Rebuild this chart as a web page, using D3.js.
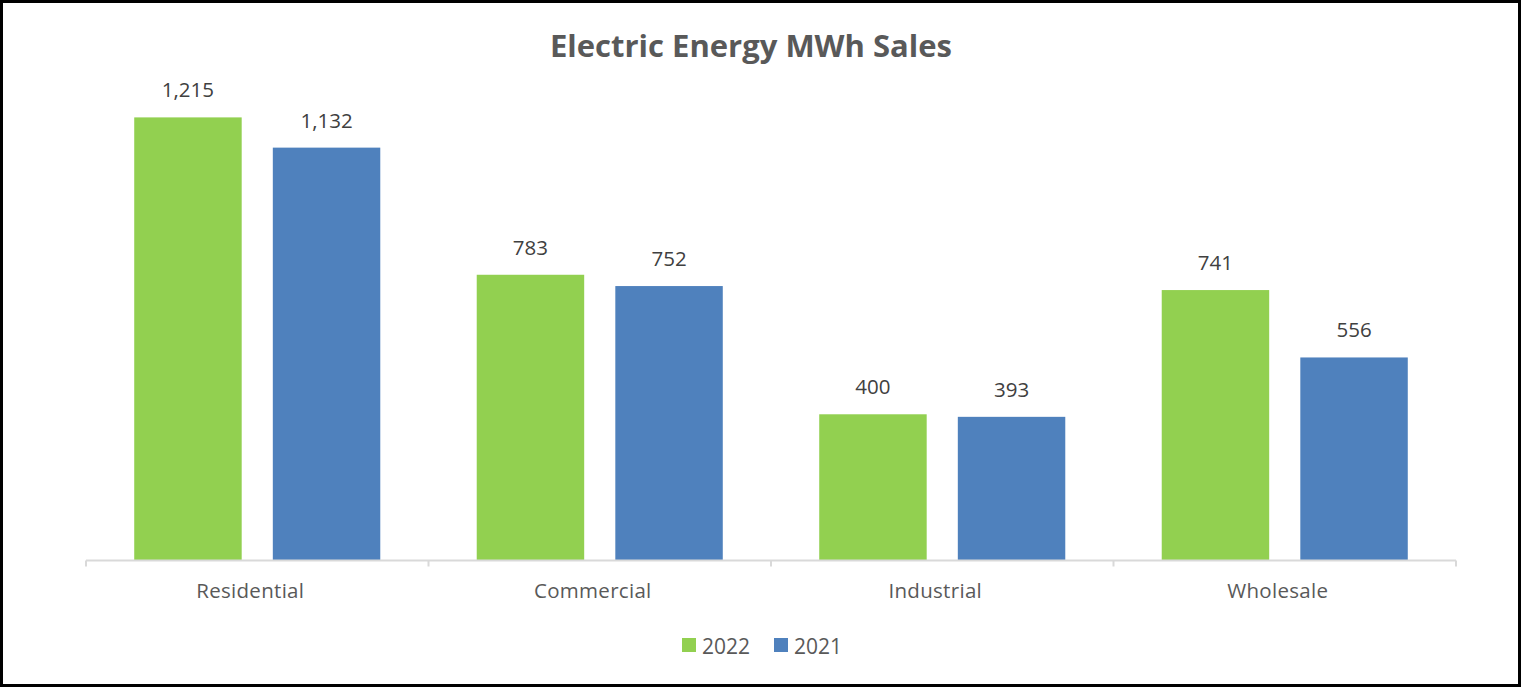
<!DOCTYPE html>
<html>
<head>
<meta charset="utf-8">
<script src="https://cdn.jsdelivr.net/npm/d3@7"></script>
<style>
    html, body { margin: 0; padding: 0; background: #fff; }
    svg { display: block; }
</style>
</head>
<body>
<div id="chart"></div>
<script>
// 数据
const categories = ['Residential', 'Commercial', 'Industrial', 'Wholesale'];
const seriesNames = ['2022', '2021'];
const values2022 = [1215, 783, 400, 741];
const values2021 = [1132, 752, 393, 556];
const seriesColors = ['#92d050', '#4f81bd'];

const W = 1522, H = 688;
const svg = d3.select('#chart').append('svg')
    .attr('width', W).attr('height', H);

// 外框
svg.append('rect')
    .attr('x', 1.5).attr('y', 1.5)
    .attr('width', 1518).attr('height', 684)
    .attr('fill', '#fff').attr('stroke', '#000').attr('stroke-width', 3);

const font = '"Open Sans", "Noto Sans", sans-serif';

// 标题
svg.append('text')
    .attr('x', 751).attr('y', 57)
    .attr('text-anchor', 'middle')
    .style('font-family', font).style('font-weight', 700)
    .style('font-size', '31px').style('fill', '#595959')
    .text('Electric Energy MWh Sales');

const x0 = d3.scaleBand().domain(categories).range([86, 1456]);
const x1 = d3.scaleBand().domain(seriesNames).range([0, x0.bandwidth()])
    .paddingInner(0.2246).paddingOuter(0.348);
const y = d3.scaleLinear().domain([0, 1400]).range([560, 50]);

const rows = categories.map((c, i) => ({
    cat: c,
    vals: [
        { s: seriesNames[0], v: values2022[i], color: seriesColors[0] },
        { s: seriesNames[1], v: values2021[i], color: seriesColors[1] }
    ]
}));

const groups = svg.selectAll('g.cat').data(rows).enter().append('g')
    .attr('class', 'cat')
    .attr('transform', d => `translate(${x0(d.cat)},0)`);

groups.selectAll('rect').data(d => d.vals).enter().append('rect')
    .attr('x', d => x1(d.s))
    .attr('y', d => y(d.v))
    .attr('width', x1.bandwidth())
    .attr('height', d => y(0) - y(d.v))
    .attr('fill', d => d.color);

// 数据标签
groups.selectAll('text.lbl').data(d => d.vals).enter().append('text')
    .attr('class', 'lbl')
    .attr('x', d => x1(d.s) + x1.bandwidth() / 2)
    .attr('y', d => y(d.v) - 20)
    .attr('text-anchor', 'middle')
    .style('font-family', font).style('font-size', '20.5px').style('fill', '#404040')
    .text(d => d3.format(',')(d.v));

// X 轴
const xAxis = svg.append('g')
    .attr('transform', 'translate(0,560.5)')
    .call(d3.axisBottom(x0).tickSize(0).tickPadding(0).tickFormat(''));
xAxis.select('.domain').remove();
xAxis.append('line')
    .attr('x1', 86).attr('x2', 1456)
    .attr('stroke', '#d9d9d9').attr('stroke-width', 2);
const bounds = categories.map(c => x0(c)).concat([x0.range()[1]]);
xAxis.selectAll('line.tk').data(bounds).enter().append('line')
    .attr('class', 'tk')
    .attr('x1', d => d).attr('x2', d => d)
    .attr('y1', 0).attr('y2', 6)
    .attr('stroke', '#d9d9d9').attr('stroke-width', 2);

svg.selectAll('text.cat').data(categories).enter().append('text')
    .attr('class', 'cat')
    .attr('x', d => x0(d) + x0.bandwidth() / 2 - 7)
    .attr('y', 598)
    .attr('text-anchor', 'middle')
    .style('font-family', font).style('font-size', '20.5px').style('fill', '#595959')
    .style('letter-spacing', '0.3px')
    .text(d => d);

// 图例
const legend = svg.append('g');
const legendX = [682, 774];
seriesNames.forEach((s, i) => {
    legend.append('rect')
        .attr('x', legendX[i]).attr('y', 638)
        .attr('width', 14).attr('height', 14)
        .attr('fill', seriesColors[i]);
    legend.append('text')
        .attr('x', legendX[i] + 20).attr('y', 654)
        .style('font-family', font).style('font-size', '21px').style('fill', '#595959')
        .text(s);
});
</script>
</body>
</html>
